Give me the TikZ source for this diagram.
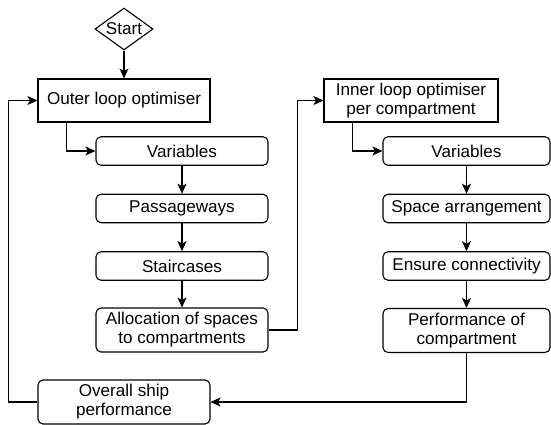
\documentclass[tikz,border=0pt]{standalone}
\usepackage{fontspec}
\setmainfont{Liberation Sans}
\usetikzlibrary{shapes.geometric,arrows.meta}
\begin{document}
\begin{tikzpicture}[x=1pt,y=-1pt,
  every node/.style={font=\fontsize{17.1}{19}\selectfont, inner sep=0pt, align=center},
  sq/.style={draw, line width=1.1pt, minimum width=172pt, minimum height=43pt},
  rbox/.style={draw, line width=1.1pt, rounded corners=5pt, minimum width=172pt},
  rsq/.style={rbox, minimum height=28.5pt},
  rtall/.style={rbox, minimum height=44pt},
  arr/.style={draw, line width=1.1pt, -{Stealth[length=10pt,width=9pt,inset=2.5pt]}}]
\useasboundingbox (0,0) rectangle (551,424);
\node[draw, diamond, aspect=1.38, line width=1.1pt, inner sep=1pt, minimum width=58pt, minimum height=42pt] (start) at (124,29) {Start};
\node[sq] (outer) at (124,100.5) {Outer loop optimiser};
\node[rsq] (vl) at (182,151) {Variables};
\node[rsq] (pass) at (182,208.5) {Passageways};
\node[rsq] (stair) at (182,266) {Staircases};
\node[rtall] (alloc) at (182,330) {Allocation of spaces\\to compartments};
\node[rtall] (overall) at (124,402) {Overall ship\\performance};
\node[sq, minimum width=174pt] (inner) at (411,100.5) {Inner loop optimiser\\per compartment};
\node[rsq, minimum width=167pt] (vr) at (466.5,151) {Variables};
\node[rsq, minimum width=167pt] (space) at (466.5,208.5) {Space arrangement};
\node[rsq, minimum width=167pt] (conn) at (466.5,266) {Ensure connectivity};
\node[rtall, minimum width=167pt] (perf) at (466.5,330.5) {Performance of\\compartment};
\draw[arr] (start.south) -- (outer.north);
\draw[arr] ([xshift=29pt]outer.south west) |- (vl.west);
\draw[arr] (vl) -- (pass);
\draw[arr] (pass) -- (stair);
\draw[arr] (stair) -- (alloc);
\draw[arr] (alloc.east) -- ++(29,0) |- (inner.west);
\draw[arr] ([xshift=29pt]inner.south west) |- (vr.west);
\draw[arr] (vr) -- (space);
\draw[arr] (space) -- (conn);
\draw[arr] (conn) -- (perf);
\draw[arr] (perf.south) |- (overall.east);
\draw[arr] (overall.west) -- ++(-29,0) |- (outer.west);
\end{tikzpicture}
\end{document}
